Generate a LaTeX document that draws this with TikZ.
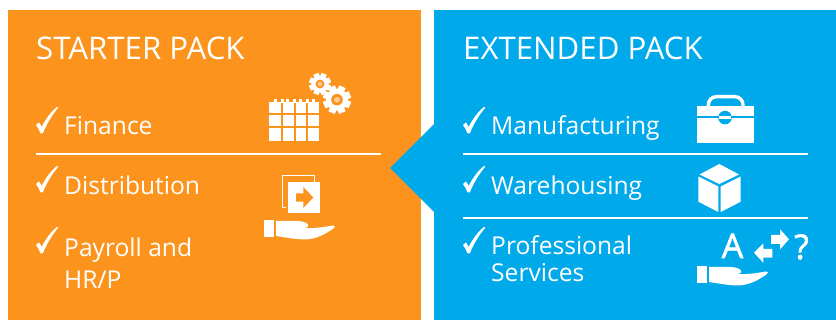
\documentclass[tikz,border=0pt]{standalone}
\usepackage{fontspec}
\setmainfont{Open Sans}
\newfontfamily\iconfont[FakeBold=1.6]{Open Sans}
\definecolor{orangepanel}{HTML}{FB931D}
\definecolor{bluepanel}{HTML}{00A9EA}
\tikzset{
  panelhead/.style={text=white,anchor=base west,inner sep=0pt,font=\fontsize{31.2}{32}\selectfont},
  item/.style={text=white,anchor=base west,inner sep=0pt,align=left,font=\fontsize{24.6}{28}\selectfont},
  icontext/.style={text=white,anchor=base,inner sep=0pt,font=\iconfont\fontsize{34}{34}\selectfont},
  rulewhite/.style={white,line width=2pt},
  checkm/.pic={\fill[white] (0,18) .. controls (1.5,16.5) and (2.5,16) .. (3,15.5) .. controls (4,16.5) and (5,18.5) .. (5.7,20)
     .. controls (9,13) and (15,4.5) .. (21,0) .. controls (21.8,0) and (22.3,0) .. (22.3,0.6)
     .. controls (16,8) and (10,18) .. (6.8,26.5) -- (4.5,26.5) .. controls (3.5,23.5) and (2,20.5) .. (0,18) -- cycle;},
  handm/.pic={\fill[white] (0,0) rectangle (10,17.5);
     \fill[white] (12,1) -- (34,1) .. controls (40,1) and (46,4) .. (44,6.5) .. controls (42,8.5) and (38,8) .. (36,8)
       .. controls (48,9) and (60,7) .. (69,5.5) .. controls (71,5.5) and (71.5,6.5) .. (70,8)
       .. controls (62,14) and (52,19) .. (42,19.5) .. controls (32,19.5) and (22,17.5) .. (12,16) -- cycle;}
}
\begin{document}
\begin{tikzpicture}[x=1pt,y=-1pt]
\useasboundingbox (0,0) rectangle (836,320);
\fill[white] (0,0) rectangle (836,320);
\fill[orangepanel] (8,10) rectangle (421,320);
\fill[bluepanel] (434,10) rectangle (836,320);
\fill[bluepanel] (434,124) -- (390,168) -- (434,212) -- cycle;
% headings
\node[panelhead] (starter) at (36,60) {STARTER PACK};
\node[panelhead] (extended) at (463,60) {EXTENDED PACK};
% left items
\pic at (36,107) {checkm};
\pic at (36,166) {checkm};
\pic at (36,227) {checkm};
\node[item] (finance) at (64,134.5) {Finance};
\node[item] (distribution) at (64,195) {Distribution};
\node[item] (payroll) at (64,257) {Payroll and};
\node[item] (hrp) at (64,289) {HR/P};
\coordinate (la) at (36,154); \coordinate (lb) at (381,154);
\draw[rulewhite] (la) -- (lb);
% right items
\pic at (463,107) {checkm};
\pic at (463,166) {checkm};
\pic at (463,227) {checkm};
\node[item] (manufacturing) at (491,134.5) {Manufacturing};
\node[item] (warehousing) at (491,195) {Warehousing};
\node[item] (professional) at (491,255) {Professional};
\node[item] (services) at (491,282) {Services};
\coordinate (ra) at (463,154); \coordinate (rb) at (808,154);
\coordinate (rc) at (463,218); \coordinate (rd) at (808,218);
\draw[rulewhite] (ra) -- (rb);
\draw[rulewhite] (rc) -- (rd);
% calendar icon
\foreach \xa/\xb in {269/281,282.7/294,296/306,307.7/319}{
  \foreach \ya/\yb in {102.3/113.3,115/126,128/140.7}{
    \fill[white] (\xa,\ya) rectangle (\xb,\yb);}}
\foreach \xa in {274,281,286,293,299,306,312}{
  \fill[white] (\xa,99) rectangle (\xa+2.5,103);}
% gears
\foreach \cx/\cy/\ro/\ri/\rh in {320/84/11/8.6/4.4,337/99.7/14/11/5.8}{
  \fill[white] (\cx,\cy) circle[radius=\ri];
  \foreach \a in {0,45,...,315}{
    \fill[white,shift={(\cx,\cy)},rotate=\a+22.5] (-\ro*0.25,-\ri*0.9) rectangle (\ro*0.25,-\ro);}
  \fill[orangepanel] (\cx,\cy) circle[radius=\rh];
  \fill[white,opacity=.55] (\cx,\cy) circle[radius=\rh*0.5];
}
% document icon
\draw[white,line width=1.3pt] (282.4,175.7) rectangle (314.5,207.8);
\fill[orangepanel] (285.5,179) rectangle (290,212.7);
\fill[white] (288,181.7) rectangle (320,212.7);
\fill[orangepanel] (296,193.3) -- (303.3,193.3) -- (303.3,187) -- (313.3,197.5) -- (303.3,208) -- (303.3,201.7) -- (296,201.7) -- cycle;
\pic at (264,220) {handm};
% toolbox
\draw[white,line width=3.4pt,rounded corners=8pt] (708.4,107) -- (708.4,96.7) -- (743,96.7) -- (743,107);
\fill[white] (696.7,105.7) rectangle (754,116);
\fill[white] (696.7,118.3) rectangle (754,142.7);
\fill[bluepanel] (725,117.6) circle[radius=6.8];
\fill[white] (718.6,116.4) rectangle (731.4,118.8);
% cube
\fill[white] (719.3,164) -- (739,174.5) -- (719.3,184) -- (699.5,174.5) -- cycle;
\fill[white] (698.3,176.5) -- (718.3,186.5) -- (718.3,212) -- (698.3,201.7) -- cycle;
\fill[white] (740.7,176.5) -- (720.7,186.5) -- (720.7,212) -- (740.7,201.7) -- cycle;
% translate icon
\node[icontext] (lettera) at (732.5,258) {A};
\node[icontext] (question) at (801.5,259) {?};
\fill[white] (771,235) -- (780,235) -- (780,229.3) -- (789,239.3) -- (780,249.3) -- (780,244) -- (771,244) -- cycle;
\fill[white] (772.3,249) -- (763.3,249) -- (763.3,243.3) -- (754,252.7) -- (763.3,262.7) -- (763.3,257.7) -- (772.3,257.7) -- cycle;
\pic at (697,266) {handm};
\end{tikzpicture}
\end{document}
